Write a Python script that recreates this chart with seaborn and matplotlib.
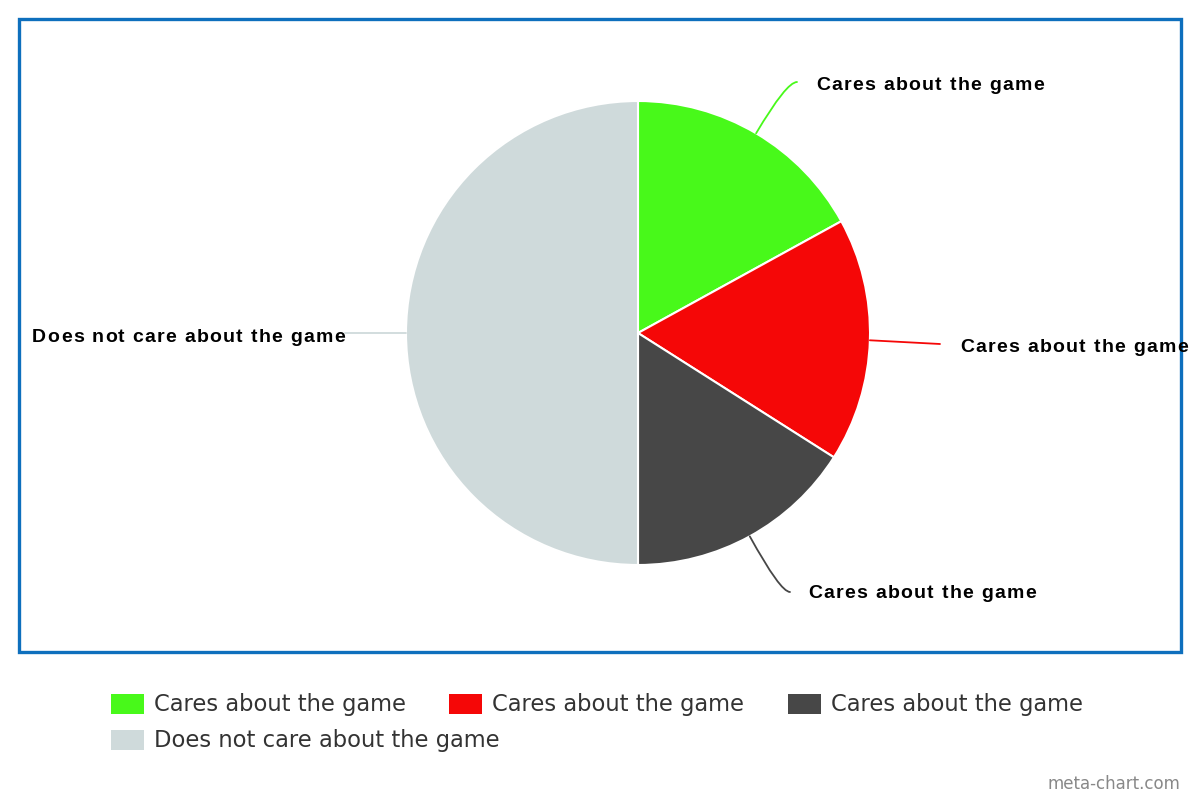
import numpy as np
import matplotlib.pyplot as plt
import matplotlib.patches as mpatches
from matplotlib.font_manager import FontProperties
from matplotlib.textpath import TextToPath
import seaborn as sns

labels = ["Cares about the game", "Cares about the game", "Cares about the game",
          "Does not care about the game"]
values = [17, 17, 16, 50]
colors = ["#48f91a", "#f50707", "#474747", "#cfdadb"]

# leader line end points and text anchors (figure pixels, y down)
leader_ends = [(797, 82), (940, 344), (790, 592), (345, 333)]
text_pos = [(816, 86), (960, 348), (808, 594), (345, 338)]


def tracked_text(ax, x, y, s, ha, prop, track, **kw):
    # draw text one glyph at a time with extra letter spacing (pixels)
    t2p = TextToPath()
    scale = 100 / 72
    base = t2p.get_text_width_height_descent("|", prop, ismath=False)[0]
    def w(sub):
        return (t2p.get_text_width_height_descent(sub + "|", prop, ismath=False)[0] - base) * scale
    total = w(s) + track * (len(s) - 1)
    x0 = x if ha == "left" else x - total
    for i, ch in enumerate(s):
        if ch == " ":
            continue
        ax.text(x0 + w(s[:i]) + track * i, y, ch, ha="left", va="center",
                fontproperties=prop, **kw)


def main():
    sns.set_theme(style="white")
    plt.rcParams["font.family"] = ["DejaVu Sans"]

    fig = plt.figure(figsize=(12, 8), dpi=100)
    ax = fig.add_axes([0, 0, 1, 1])

    H = 800
    center = (638, H - 333)
    radius = 232

    wedges, _ = ax.pie(values, colors=colors, startangle=90, counterclock=False,
                       center=center, radius=radius, frame=True,
                       wedgeprops=dict(edgecolor="white", linewidth=1.5))
    ax.set_xlim(0, 1200)
    ax.set_ylim(0, 800)
    ax.set_aspect("equal")
    ax.axis("off")

    # chart frame
    ax.add_patch(mpatches.Rectangle((19, H - 652), 1162, 633, fill=False,
                                    edgecolor="#0e6fbd", linewidth=2.4))

    prop = FontProperties(family="Liberation Sans", weight="bold", size=14)
    for w, lab, col, (ex, ey), (tx, ty) in zip(wedges, labels, colors, leader_ends, text_pos):
        mid = np.deg2rad((w.theta1 + w.theta2) / 2)
        pt = (center[0] + radius * np.cos(mid), center[1] + radius * np.sin(mid))
        ang = np.rad2deg(mid)
        if abs(np.sin(mid)) > 0.2:
            cs = f"angle3,angleA=0,angleB={ang:.1f}"
        else:
            cs = "arc3,rad=0"
        ax.annotate("", xy=pt, xytext=(ex, H - ey),
                    arrowprops=dict(arrowstyle="-", color=col, lw=1.3,
                                    connectionstyle=cs, shrinkA=0, shrinkB=0))
        ha = "left" if tx > center[0] else "right"
        tracked_text(ax, tx, H - ty, lab, ha, prop, 1.3, color="black")

    handles = [mpatches.Patch(facecolor=c, edgecolor="none") for c in colors]
    leg_kw = dict(loc="center left", frameon=False, fontsize=16.3, handlelength=1.46,
                  handleheight=0.97, handletextpad=0.45, columnspacing=1.9,
                  borderpad=0, borderaxespad=0)
    leg1 = fig.legend(handles[:3], labels[:3], ncol=3,
                      bbox_to_anchor=(111 / 1200, 1 - 705 / 800), **leg_kw)
    leg2 = fig.legend(handles[3:], labels[3:], ncol=1,
                      bbox_to_anchor=(111 / 1200, 1 - 741 / 800), **leg_kw)
    for leg in (leg1, leg2):
        for t in leg.get_texts():
            t.set_color("#333333")

    fig.text(1180 / 1200, 1 - 784 / 800, "meta-chart.com", ha="right", va="center",
             fontsize=12, color="#888888")

    fig.savefig("out.png", dpi=100)


if __name__ == "__main__":
    main()
